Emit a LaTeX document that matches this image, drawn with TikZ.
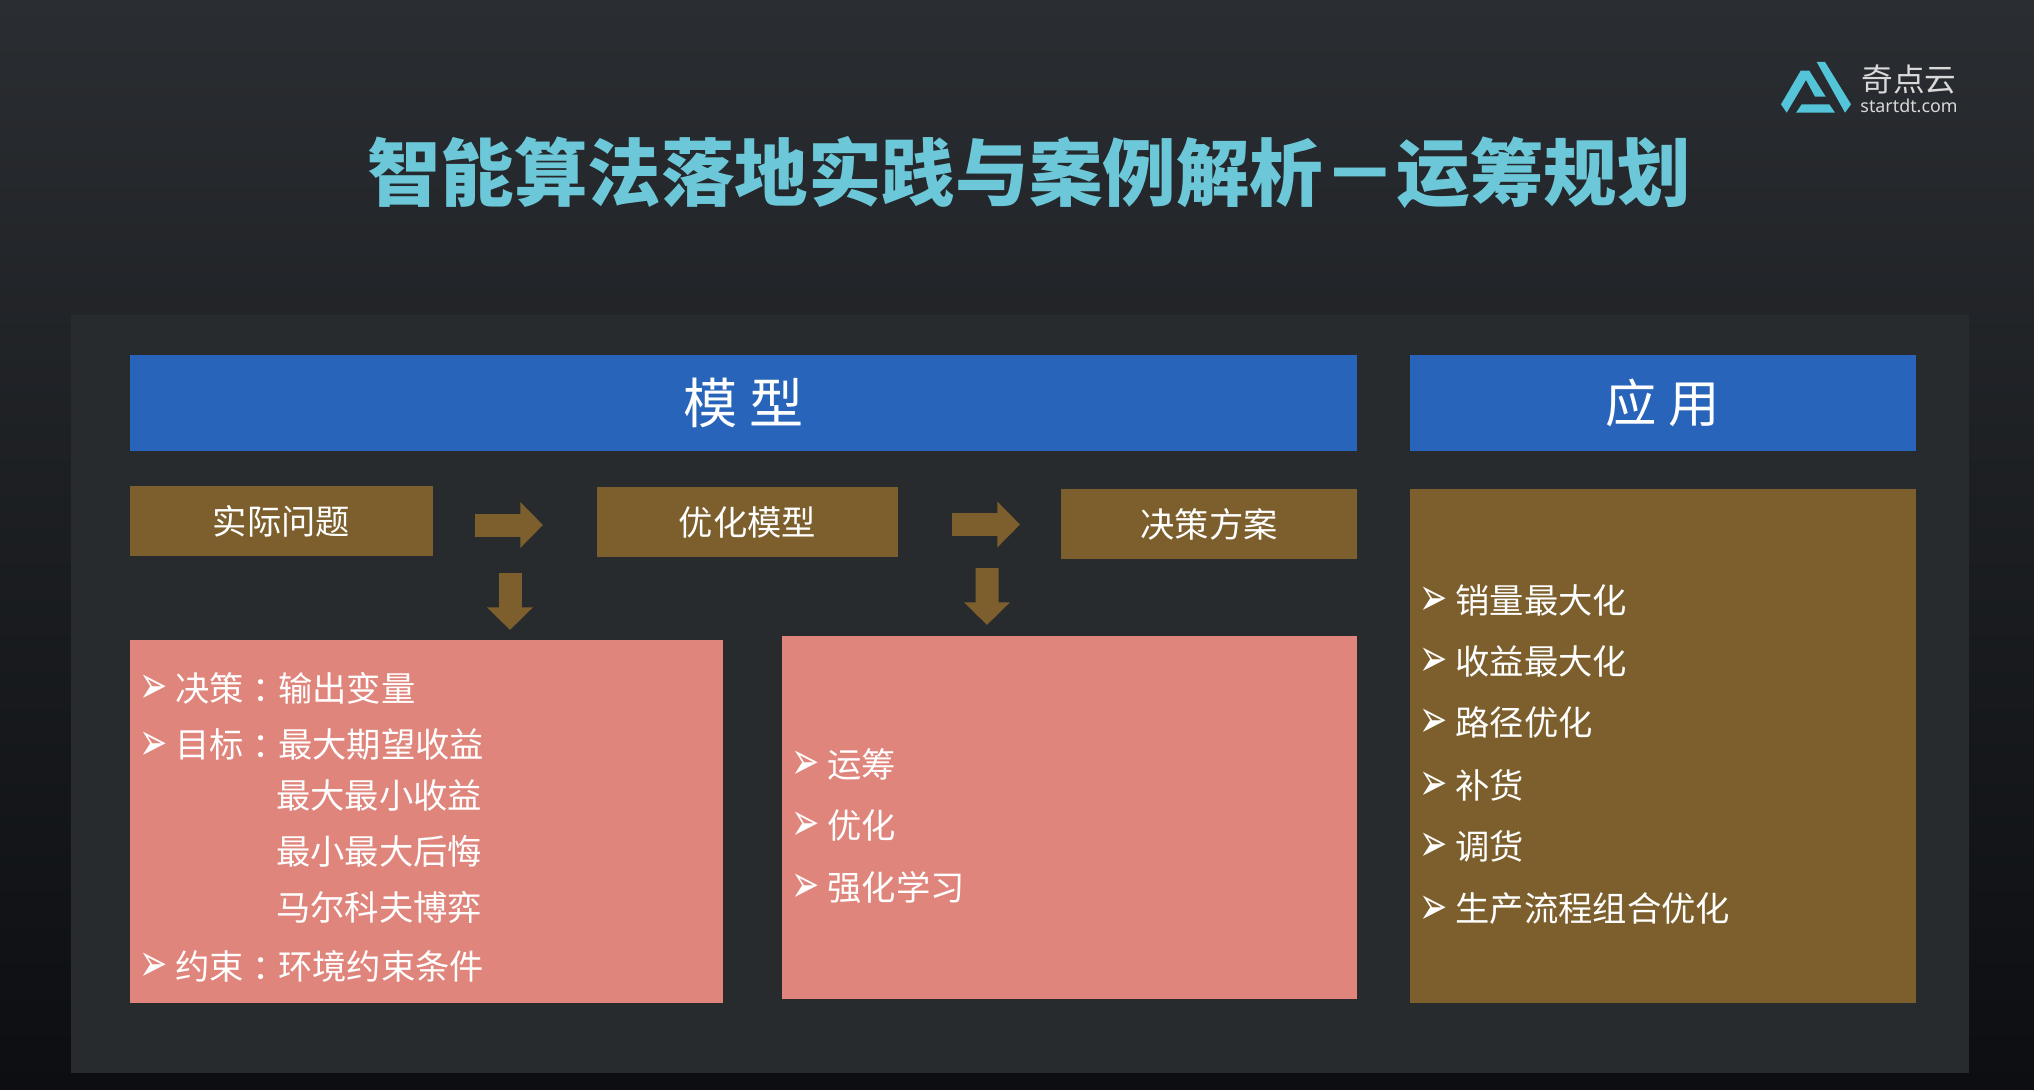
\documentclass[tikz,border=0pt]{standalone}
\usepackage{fontspec}
\setmainfont{Noto Sans CJK SC}
\newfontfamily\dejavu{DejaVu Sans}
\newfontfamily\latinlogo{Noto Sans}
\usetikzlibrary{arrows.meta}
\definecolor{bgtop}{HTML}{2A2D31}
\definecolor{bgmid}{HTML}{1E2125}
\definecolor{bgbottom}{HTML}{0C0E11}
\definecolor{panelgray}{HTML}{282B2E}
\definecolor{headblue}{HTML}{2864BA}
\definecolor{boxbrown}{HTML}{7C5F2C}
\definecolor{boxred}{HTML}{E0857C}
\definecolor{titlecyan}{HTML}{6CC8D8}
\definecolor{logocyan}{HTML}{54C4D8}
\newcommand{\bul}{\makebox[25pt][l]{\raisebox{-1.5pt}{\hspace{-.5pt}\scalebox{1.2}[1.9]{\dejavu\fontsize{20pt}{20pt}\selectfont ➢}}}}
\newcommand{\cncolon}{\hspace{.25em}：\hspace{-.25em}}
\tikzset{
    headbox/.style={fill=headblue,text=white,inner sep=0pt,outer sep=0pt,minimum height=2.4cm,font=\fontsize{38.5pt}{38.5pt}\selectfont},
    brownbox/.style={fill=boxbrown,text=white,inner sep=0pt,outer sep=0pt,minimum height=1.75cm,font=\fontsize{24.4pt}{24.4pt}\selectfont},
    redbox/.style={fill=boxred,inner sep=0pt,outer sep=0pt,minimum height=9.075cm},
    listline/.style={anchor=west,text=white,inner sep=0pt,font=\fontsize{24.4pt}{24.4pt}\selectfont},
    blockarrow/.style={draw=boxbrown,line width=23*0.711pt,-{Triangle[length=16pt,width=31.5pt,fill=boxbrown]}},
}
\begin{document}
\begin{tikzpicture}[x=0.025cm,y=-0.025cm]
    \useasboundingbox (0,0) rectangle (2034,1090);
    \shade[top color=bgtop,middle color=bgmid,bottom color=bgbottom] (0,0) rectangle (2034,1090);
    \fill[panelgray] (71,315) rectangle (1969,1073);

    \node[text=titlecyan,font=\fontsize{52.3pt}{52.3pt}\bfseries\selectfont] (title) at (1029,173) {智能算法落地实践与案例解析－运筹规划};

    % logo
    \fill[logocyan] (1781,104.3) -- (1800.7,70.7) -- (1809.3,70.7) -- (1825.7,96.7) -- (1815,96.7) -- (1806,80) -- (1786.7,112.7) -- cycle;
    \fill[logocyan] (1816.7,62) -- (1825,62) -- (1851,104.3) -- (1845,112.7) -- cycle;
    \fill[logocyan] (1796,112.7) -- (1801.7,104.3) -- (1829.3,104.3) -- (1835,112.7) -- cycle;
    \node[text=black!15,inner sep=0pt,font=\fontsize{22.5pt}{22.5pt}\selectfont] (logoname) at (1909,80) {奇点云};
    \node[text=black!15,inner sep=0pt,font=\latinlogo\fontsize{12.7pt}{12.7pt}\selectfont] (logourl) at (1909,106) {startdt.com};

    \node[headbox,minimum width=30.675cm] (model) at (743.5,403) {模 型};
    \node[headbox,minimum width=12.65cm,font=\fontsize{36.5pt}{36.5pt}\selectfont] (usage) at (1663,403) {应 用};

    \node[brownbox,minimum width=7.575cm] (problem) at (281.5,521) {实际问题};
    \node[brownbox,minimum width=7.525cm] (optim) at (747.5,522) {优化模型};
    \node[brownbox,minimum width=7.4cm] (plan) at (1209,524) {决策方案};

    \node[redbox,minimum width=14.825cm] (leftred) at (426.5,821.5) {};
    \node[redbox,minimum width=14.375cm] (midred) at (1069.5,817.5) {};
    \node[brownbox,minimum width=12.65cm,minimum height=12.85cm] (rightbrown) at (1663,746) {};

    \draw[blockarrow] ([shift={(42,4)}]problem.east) -- ([shift={(-54,3)}]optim.west);
    \draw[blockarrow] ([shift={(54,2.5)}]optim.east) -- ([shift={(-41,0.5)}]plan.west);
    \draw[blockarrow] ([shift={(228.5,17)}]problem.south) -- ([shift={(83.5,-10)}]leftred.north);
    \draw[blockarrow] ([shift={(239.5,11)}]optim.south) -- ([shift={(-82.5,-11)}]midred.north);

    % left list
    \node[listline] (decide) at (140,688) {\bul 决策\cncolon 输出变量};
    \node[listline] (goal) at (140,745) {\bul 目标\cncolon 最大期望收益};
    \node[listline] (goaltwo) at (276,795) {最大最小收益};
    \node[listline] (goalthree) at (276,851) {最小最大后悔};
    \node[listline] (goalfour) at (276,907) {马尔科夫博弈};
    \node[listline] (limit) at (140,966) {\bul 约束\cncolon 环境约束条件};

    % middle list
    \node[listline] (opsres) at (792,764) {\bul 运筹};
    \node[listline] (optimize) at (792,825) {\bul 优化};
    \node[listline] (reinforce) at (792,887) {\bul 强化学习};

    % right list
    \node[listline] (sales) at (1420,600) {\bul 销量最大化};
    \node[listline] (income) at (1420,661) {\bul 收益最大化};
    \node[listline] (route) at (1420,722) {\bul 路径优化};
    \node[listline] (refill) at (1420,785) {\bul 补货};
    \node[listline] (transfer) at (1420,846) {\bul 调货};
    \node[listline] (produce) at (1420,909) {\bul 生产流程组合优化};
\end{tikzpicture}
\end{document}
